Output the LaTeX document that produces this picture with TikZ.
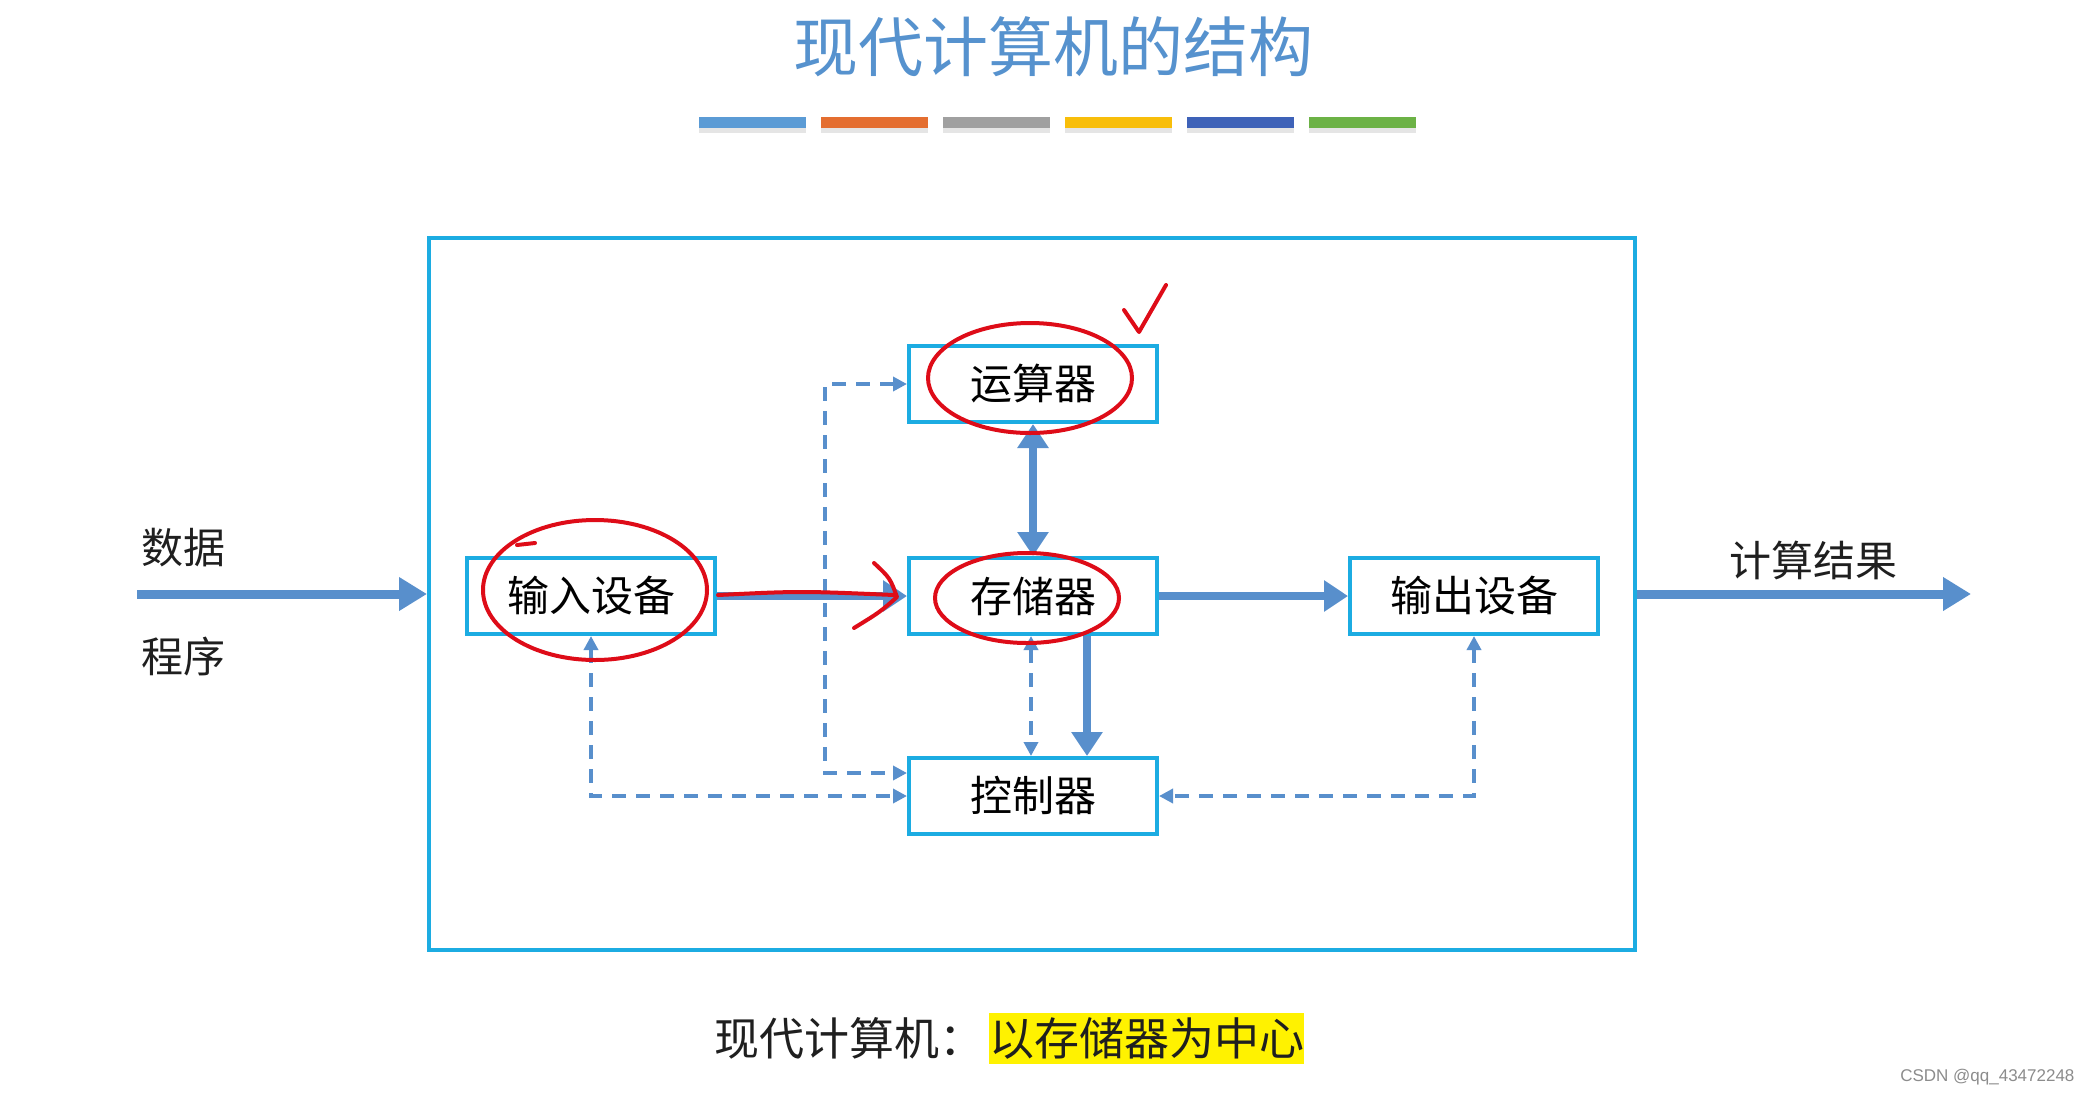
\documentclass[tikz,border=0pt]{standalone}
\usepackage{fontspec}
\setmainfont{Noto Sans CJK SC}
\newfontfamily\markfont{Liberation Sans}
\usetikzlibrary{arrows.meta}
\definecolor{frameblue}{RGB}{28,172,226}
\definecolor{arrowblue}{RGB}{88,143,204}
\definecolor{titleblue}{RGB}{86,146,206}
\definecolor{penred}{RGB}{222,12,24}
\definecolor{barA}{RGB}{91,155,213}
\definecolor{barB}{RGB}{228,110,48}
\definecolor{barC}{RGB}{160,160,160}
\definecolor{barD}{RGB}{248,190,10}
\definecolor{barE}{RGB}{62,98,184}
\definecolor{barF}{RGB}{108,178,70}

\begin{document}
\begin{tikzpicture}[x=1pt,y=-1pt,
    unit/.style={draw=frameblue,line width=4pt,minimum width=248pt,minimum height=76pt,
      inner sep=0pt,font=\fontsize{42}{46}\selectfont},
    label/.style={font=\fontsize{42}{46}\selectfont,text=black!88},
    bus/.style={draw=arrowblue,line width=8pt,>={Triangle[length=24pt,width=30pt]}},
    feed/.style={draw=arrowblue,line width=9pt,>={Triangle[length=28pt,width=32pt]}},
    sig/.style={draw=arrowblue,line width=3.5pt,dash pattern=on 14pt off 10pt,
      >={Triangle[length=14pt,width=14pt]}},
    pen/.style={draw=penred,line width=4pt,line cap=round,line join=round}]
    \useasboundingbox[fill=white] (0,0) rectangle (2090,1096);
    \node[font=\fontsize{65}{70}\selectfont,text=titleblue] (title) at (1053,47) {现代计算机的结构};
    \foreach \c [count=\i from 0] in {barA,barB,barC,barD,barE,barF}
      {\fill[black!10] ({699+122*\i},128) rectangle +(107,5);
       \fill[\c] ({699+122*\i},117) rectangle +(107,11);}
    \node[draw=frameblue,line width=4pt,minimum width=1206pt,minimum height=712pt] (frame) at (1032,594) {};
    \node[unit] (alu) at (1033,384) {运算器};
    \node[unit] (mem) at (1033,596) {存储器};
    \node[unit] (in) at (591,596) {输入设备};
    \node[unit] (out) at (1474,596) {输出设备};
    \node[unit] (ctrl) at (1033,796) {控制器};
    \node[label] (data) at (183,548) {数据};
    \node[label] (prog) at (183,656) {程序};
    \node[label] (result) at (1813,560) {计算结果};
    \coordinate (src) at (137,594);
    \coordinate (dst) at (1971,594);
    \draw[feed,->] (src) -- (frame.west);
    \draw[feed,->] (frame.east) -- (dst);
    \draw[bus,->] (in.east) -- (mem.west);
    \draw[bus,->] (mem.east) -- (out.west);
    \draw[bus,<->] (alu.south) -- (mem.north);
    \draw[bus,->] ([xshift=54pt]mem.south) -- ([xshift=54pt]ctrl.north);
    \draw[sig,<->] ([xshift=-2pt]mem.south) -- ([xshift=-2pt]ctrl.north);
    \draw[sig,<->] (alu.west) -- ++(-82,0) |- ([yshift=23pt]ctrl.west);
    \draw[sig,<->] (in.south) |- (ctrl.west);
    \draw[sig,<->] (out.south) |- (ctrl.east);
    \node[anchor=east,font=\fontsize{45}{50}\selectfont,text=black!88] (motto) at (988,1038) {现代计算机：};
    \node[anchor=west,fill=yellow,inner xsep=0pt,minimum height=51pt,
      font=\fontsize{45}{50}\selectfont,text=black!88] (core) at (989,1038) {以存储器为中心};
    \node[anchor=east,font=\markfont\fontsize{17}{20}\selectfont,text=black!45] (mark) at (2078,1077) {CSDN @qq\_43472248};
    \draw[pen] (595,590) ellipse [x radius=112, y radius=70];
    \draw[pen] (517,545) -- (535,543);
    \draw[pen] (1030,378) ellipse [x radius=102, y radius=55];
    \draw[pen] (1027,598) ellipse [x radius=92, y radius=45];
    \draw[pen] (718,595) .. controls (800,591) .. (894,595);
    \draw[pen] (874,563) .. controls (890,578) .. (897,597) .. controls (880,612) .. (854,628);
    \draw[pen] (1124,310) -- (1139,332) -- (1166,285);
\end{tikzpicture}
\end{document}
